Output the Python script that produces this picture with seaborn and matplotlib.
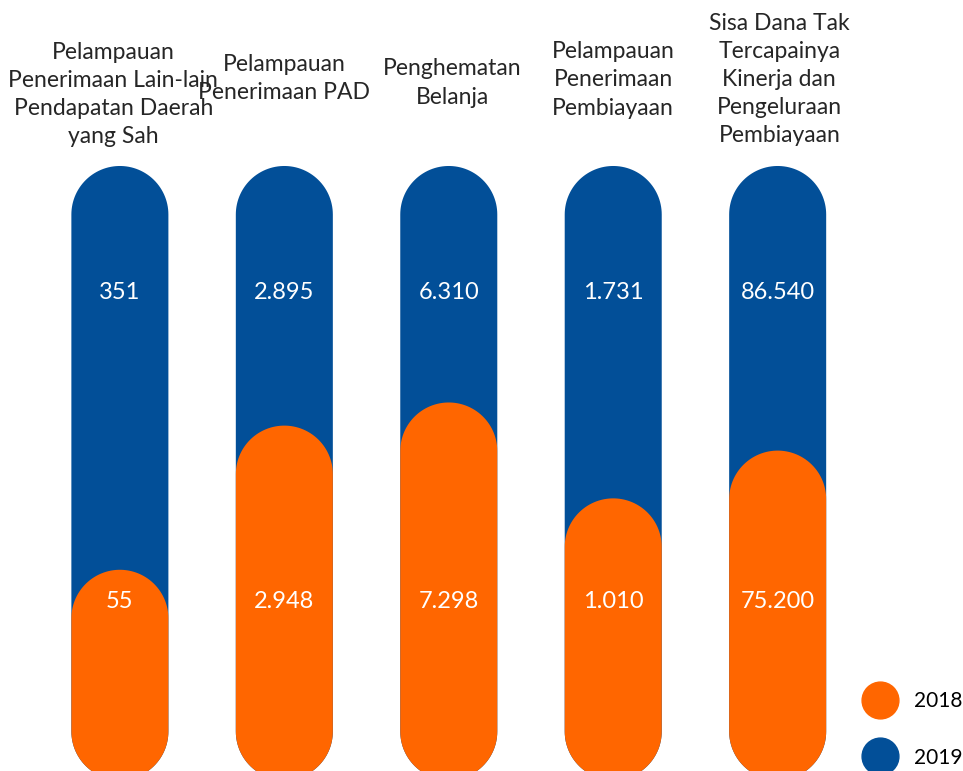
import matplotlib
matplotlib.use("Agg")
import matplotlib.pyplot as plt
from matplotlib.patches import Polygon
from matplotlib.lines import Line2D
import numpy as np
import pandas as pd
import seaborn as sns

# --- data -----------------------------------------------------------------
categories = [
    "Pelampauan\nPenerimaan Lain-lain\nPendapatan Daerah\nyang Sah",
    "Pelampauan\nPenerimaan PAD",
    "Penghematan\nBelanja",
    "Pelampauan\nPenerimaan\nPembiayaan",
    "Sisa Dana Tak\nTercapainya\nKinerja dan\nPengeluraan\nPembiayaan",
]
values_2018 = [55, 2948, 7298, 1010, 75200]
values_2019 = [351, 2895, 6310, 1731, 86540]
labels_2018 = ["55", "2.948", "7.298", "1.010", "75.200"]
labels_2019 = ["351", "2.895", "6.310", "1.731", "86.540"]

# --- styling / layout -----------------------------------------------------
BLUE = "#024F98"
ORANGE = "#FF6600"
TEXT = "#262626"
FONT = ["Lato", "DejaVu Sans"]

FLOOR = -1.1        # where every capsule starts (ratio scale)
TRACK_TOP = 2.57    # top of the 2019 capsule (full track)
YLIM = (-1.046, 3.562)
XLIM = (-0.729, 5.127)
BAR_W = 0.59

sns.set_theme(style="white")
plt.rcParams["font.family"] = FONT

# 2018 fill level expressed relative to the 2019 value
ratio_2018 = np.array(values_2018) / np.array(values_2019)

df = pd.DataFrame({
    "kategori": list(range(len(categories))) * 2,
    "tahun": ["2019"] * len(categories) + ["2018"] * len(categories),
    "level": [TRACK_TOP] * len(categories) + list(ratio_2018),
})

fig = plt.figure(figsize=(9.63, 7.71), dpi=100)
ax = fig.add_axes([0, 0, 1, 1])

sns.barplot(
    data=df, x="kategori", y="level", hue="tahun",
    hue_order=["2019", "2018"], palette={"2019": BLUE, "2018": ORANGE},
    dodge=False, width=BAR_W, legend=False, ax=ax, linewidth=0,
    saturation=1,
)
ax.set_xlim(*XLIM)
ax.set_ylim(*YLIM)

# y data units per x data unit at equal screen length (for round caps)
fig.canvas.draw()
p0 = ax.transData.inverted().transform((0, 0))
p1 = ax.transData.inverted().transform((1, 1))
aspect = abs(p1[1] - p0[1]) / abs(p1[0] - p0[0])


def capsule(x, w, y0, y1):
    """Vertices of a vertical capsule with semicircular ends."""
    r = w / 2
    ry = r * aspect
    cx = x + r
    t_top = np.linspace(0, np.pi, 60)
    t_bot = np.linspace(np.pi, 2 * np.pi, 60)
    top = np.column_stack([cx + r * np.cos(t_top), y1 - ry + ry * np.sin(t_top)])
    bot = np.column_stack([cx + r * np.cos(t_bot), y0 + ry + ry * np.sin(t_bot)])
    return np.vstack([top, bot])


# turn each bar into a capsule that starts at the common floor
for rect in list(ax.patches):
    x, w, top = rect.get_x(), rect.get_width(), rect.get_height()
    color = rect.get_facecolor()
    z = rect.get_zorder()
    rect.remove()
    ax.add_patch(Polygon(capsule(x, w, FLOOR, top), closed=True,
                         facecolor=color, edgecolor="none", zorder=z))

# value labels
for i in range(len(categories)):
    ax.text(i, 1.813, labels_2019[i], color="white", fontsize=17,
            ha="center", va="center", zorder=5)
    ax.text(i, -0.03, labels_2018[i], color="white", fontsize=17,
            ha="center", va="center", zorder=5)

# category headings above the capsules (pixel y of block centre)
head_y = [94.5, 78.5, 83, 80, 79.5]
head_dx = [-0.04, 0, 0.02, 0, 0.01]
for i, txt in enumerate(categories):
    fig.text((XLIM[0] * -1 + i + head_dx[i]) / (XLIM[1] - XLIM[0]),
             1 - head_y[i] / 771, txt, color=TEXT, fontsize=16.5,
             ha="center", va="center", multialignment="center",
             linespacing=1.42)

# legend
handles = [
    Line2D([], [], marker="o", ls="", ms=26.5, color=ORANGE, label="2018"),
    Line2D([], [], marker="o", ls="", ms=26.5, color=BLUE, label="2019"),
]
leg = fig.legend(handles=handles, loc="lower right",
                 bbox_to_anchor=(1.012, -0.012), frameon=False,
                 fontsize=15, labelspacing=1.75, handlelength=1.0,
                 handletextpad=1.1, borderaxespad=0.2)
for t in leg.get_texts():
    t.set_color("black")

ax.set_axis_off()
fig.savefig("out.png", dpi=100)
